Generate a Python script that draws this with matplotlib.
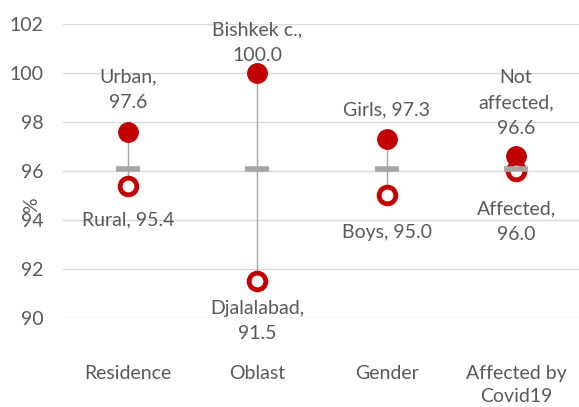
import matplotlib.pyplot as plt

plt.rcParams['font.family'] = ['Lato', 'DejaVu Sans']

categories = ["Residence", "Oblast", "Gender", "Affected by\nCovid19"]
high_values = [97.6, 100.0, 97.3, 96.6]
low_values = [95.4, 91.5, 95.0, 96.0]
high_labels = ["Urban,\n97.6", "Bishkek c.,\n100.0", "Girls, 97.3", "Not\naffected,\n96.6"]
low_labels = ["Rural, 95.4", "Djalalabad,\n91.5", "Boys, 95.0", "Affected,\n96.0"]
national_avg = [96.1, 96.1, 96.1, 96.1]

red = "#C00000"
grey_txt = "#595959"
fs = 14
x = list(range(len(categories)))

fig = plt.figure(figsize=(5.79, 4.07), dpi=100)
ax = fig.add_axes([0.109, 0.2187, 0.894, 0.7223])

# range lines between the two groups
ax.vlines(x, low_values, high_values, color="#A6A6A6", lw=1, zorder=2)
ax.plot(x, high_values, "o", ms=14, color=red, zorder=3)
ax.plot(x, low_values, "o", ms=12, mfc="white", mec=red, mew=3.5, zorder=3)
ax.plot(x, national_avg, "_", ms=17, mew=4, color="#A6A6A6", zorder=4)

# data labels
high_off = [15, 6.5, 15, 14]
low_off = [-18.5, -13.5, -20.5, -21.5]
for i in x:
    ax.annotate(high_labels[i], (x[i], high_values[i]), xytext=(0, high_off[i]),
                textcoords="offset points", ha="center", va="bottom",
                fontsize=fs, color=grey_txt, linespacing=1.6)
    ax.annotate(low_labels[i], (x[i], low_values[i]), xytext=(0, low_off[i]),
                textcoords="offset points", ha="center", va="top",
                fontsize=fs, color=grey_txt, linespacing=1.6)

ax.set_xlim(-0.5, 3.5)
ax.set_ylim(90, 102)
ax.set_yticks(range(90, 103, 2))
ax.set_xticks(x)
ax.set_xticklabels(categories, linespacing=1.4)
ax.yaxis.grid(True, color="#D9D9D9", lw=1)
ax.set_axisbelow(True)
for s in ax.spines.values():
    s.set_visible(False)
ax.tick_params(axis="both", length=0, labelsize=fs, labelcolor=grey_txt)
ax.tick_params(axis="x", pad=34)
ax.tick_params(axis="y", pad=14)
ax.set_ylabel("%", fontsize=fs, color=grey_txt)
ax.yaxis.set_label_coords(-0.044, 0.385)

plt.savefig("out.png", dpi=100)
